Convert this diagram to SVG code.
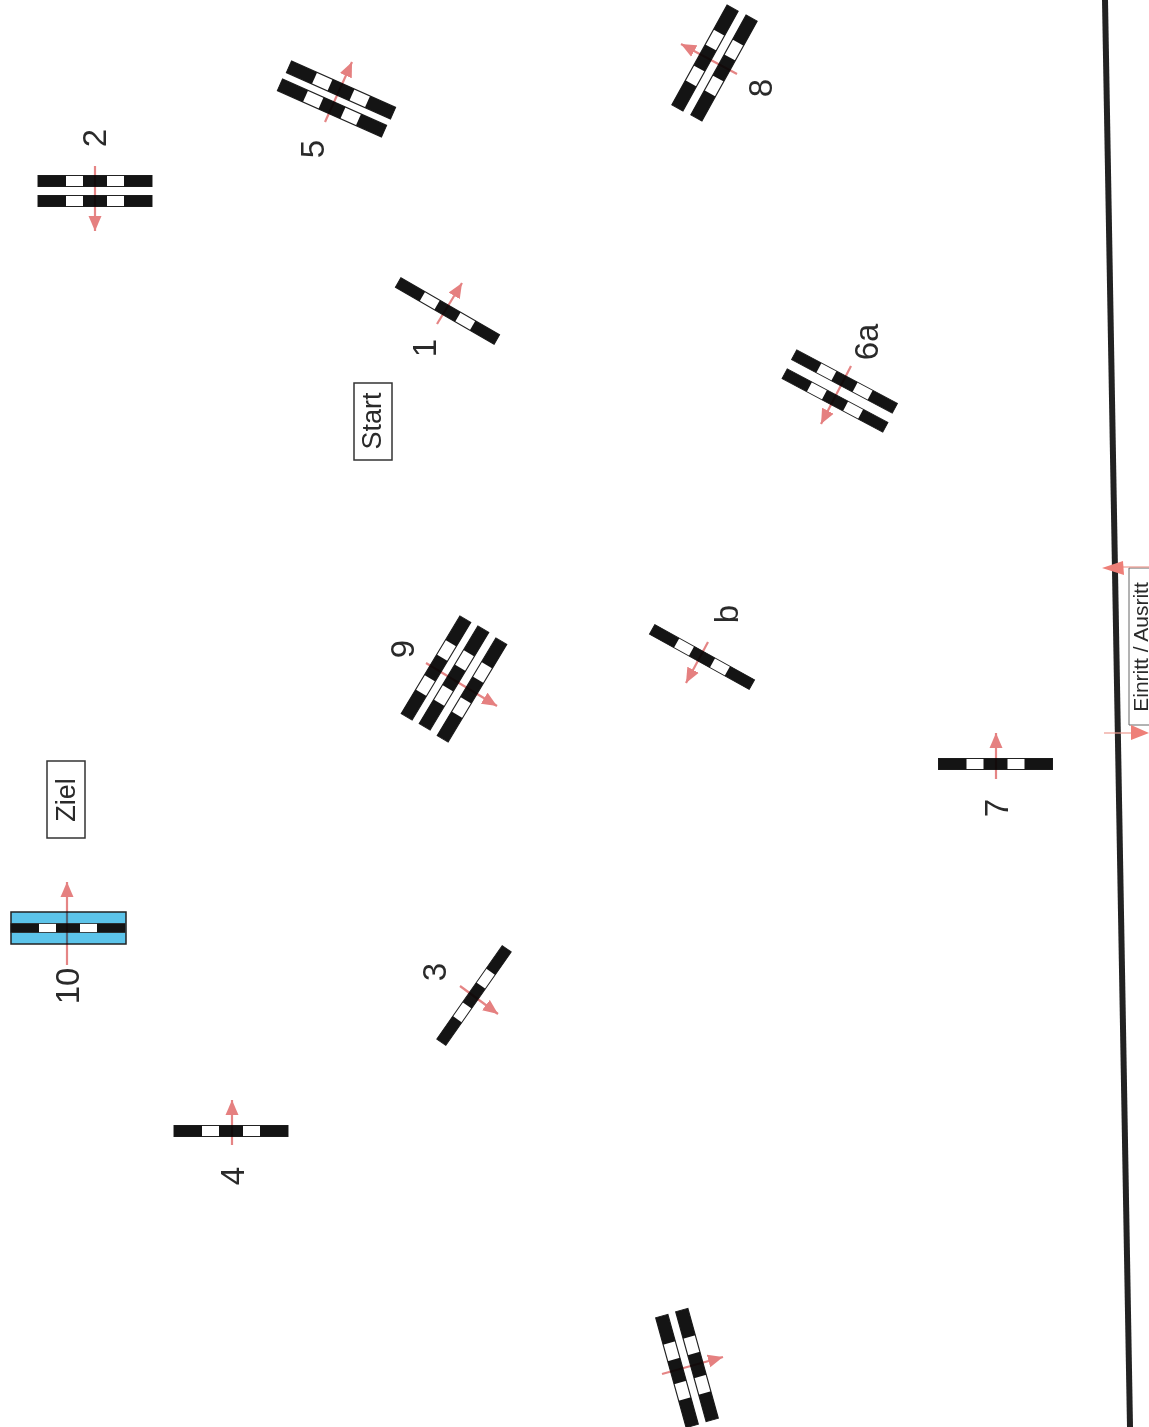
<svg xmlns="http://www.w3.org/2000/svg" width="1149" height="1427" viewBox="0 0 1149 1427">
<style>
.lbl{font-family:"Liberation Sans",Arial,sans-serif;font-size:33px;fill:#2a2a2a;text-anchor:middle;dominant-baseline:central}
.box{font-family:"Liberation Sans",Arial,sans-serif;font-size:27px;fill:#2a2a2a;text-anchor:middle;dominant-baseline:central}
.small{font-family:"Liberation Sans",Arial,sans-serif;font-size:21px;fill:#2a2a2a;text-anchor:middle;dominant-baseline:central}
.frame{fill:#fff;stroke:#333;stroke-width:1.5}
.arr{fill:none;stroke:#e58585;stroke-width:2.2;marker-end:url(#head);mix-blend-mode:multiply}
.thin{fill:none;stroke:#ec9a90;stroke-width:1.2}
.tri{fill:#ee7f78}
</style>
<defs>
<marker id="head" markerUnits="userSpaceOnUse" markerWidth="16" markerHeight="14" refX="15" refY="7" orient="auto">
<path d="M0,0.5 L15,7 L0,13.5 Z" fill="#e58080"/>
</marker>
<g id="bar">
<rect x="-57" y="-5.5" width="114" height="11" fill="#fff" stroke="#222" stroke-width="1"/>
<rect x="-57" y="-5.5" width="28" height="11" fill="#141414"/>
<rect x="-12" y="-5.5" width="24" height="11" fill="#141414"/>
<rect x="29" y="-5.5" width="28" height="11" fill="#141414"/>
</g>
</defs>
<rect width="1149" height="1427" fill="#fff"/>
<g id="fence-line"><path d="M1105,0 L1130,1427" fill="none" stroke="#222" stroke-width="6"/></g>
<g id="entry">
<path d="M1149,568 H1129 V725 H1149" fill="#fff" stroke="#666" stroke-width="1"/>
<text class="small" transform="translate(1140,647) rotate(-90)">Einritt / Ausritt</text>
</g>
<g id="jump-1"><use href="#bar" transform="translate(447.5,311) rotate(30)"/><text class="lbl" transform="translate(424,348) rotate(-90)">1</text></g>
<g id="jump-2"><use href="#bar" transform="translate(95,181)"/><use href="#bar" transform="translate(95,201)"/><text class="lbl" transform="translate(94,138) rotate(-90)">2</text></g>
<g id="jump-3"><use href="#bar" transform="translate(474,995.5) rotate(-55)"/><text class="lbl" transform="translate(434,972) rotate(-90)">3</text></g>
<g id="jump-4"><use href="#bar" transform="translate(231,1131)"/><text class="lbl" transform="translate(232,1176) rotate(-90)">4</text></g>
<g id="jump-5"><use href="#bar" transform="translate(341,90) rotate(24) scale(1,1.15)"/><use href="#bar" transform="translate(332,108) rotate(24) scale(1,1.15)"/><text class="lbl" transform="translate(312,149) rotate(-90)">5</text></g>
<g id="jump-6a"><use href="#bar" transform="translate(844.5,381.5) rotate(28)"/><use href="#bar" transform="translate(835,400.5) rotate(28)"/><text class="lbl" transform="translate(866,342) rotate(-90)">6a</text></g>
<g id="jump-7"><use href="#bar" transform="translate(995.5,764)"/><text class="lbl" transform="translate(996,808) rotate(-90)">7</text></g>
<g id="jump-8"><use href="#bar" transform="translate(705,58) rotate(-61) scale(1,1.15)"/><use href="#bar" transform="translate(724,68) rotate(-61) scale(1,1.15)"/><text class="lbl" transform="translate(760,88) rotate(-90)">8</text></g>
<g id="jump-9"><use href="#bar" transform="translate(436,668) rotate(-59) scale(1,1.15)"/><use href="#bar" transform="translate(454,678) rotate(-59) scale(1,1.15)"/><use href="#bar" transform="translate(472,690) rotate(-59) scale(1,1.15)"/><text class="lbl" transform="translate(402,649) rotate(-90)">9</text></g>
<g id="jump-b"><use href="#bar" transform="translate(702,657) rotate(29)"/><text class="lbl" transform="translate(726,614) rotate(-90)">b</text></g>
<g id="jump-10"><rect x="11" y="912" width="115" height="32" fill="#5cc4ea" stroke="#222" stroke-width="1.5"/><use href="#bar" transform="translate(68,928) scale(1,.8)"/><text class="lbl" transform="translate(67,986) rotate(-90)">10</text></g>
<g id="jump-unnumbered"><use href="#bar" transform="translate(677,1371) rotate(74.5) scale(1,1.15)"/><use href="#bar" transform="translate(697,1365) rotate(74.5) scale(1,1.15)"/></g>
<g id="start"><rect class="frame" x="354" y="383" width="38" height="77"/><text class="box" transform="translate(372,421) rotate(-90)">Start</text></g>
<g id="ziel"><rect class="frame" x="47" y="761" width="38" height="77"/><text class="box" transform="translate(66,800) rotate(-90)">Ziel</text></g>
<g id="connectors">
<path class="arr" d="M437,324 L462,283"/>
<path class="arr" d="M95,166 L95,231"/>
<path class="arr" d="M460,986 L498,1014"/>
<path class="arr" d="M232,1145 L232,1100"/>
<path class="arr" d="M325,122 L352,62"/>
<path class="arr" d="M851,366 L821,424"/>
<path class="arr" d="M996,779 L996,733"/>
<path class="arr" d="M737,74 L681,44"/>
<path class="arr" d="M426,663 L497,706"/>
<path class="arr" d="M708,642 L686,683"/>
<path class="arr" d="M67,965 L67,882"/>
<path class="arr" d="M662,1374 L723,1357"/>
<path class="thin" d="M1120,567 H1149"/>
<path class="tri" d="M1102,568 L1123,561 L1124,575 Z"/>
<path class="thin" d="M1104,733 H1132"/>
<path class="tri" d="M1131,725 L1149,733 L1131,740 Z"/>
</g>
</svg>
